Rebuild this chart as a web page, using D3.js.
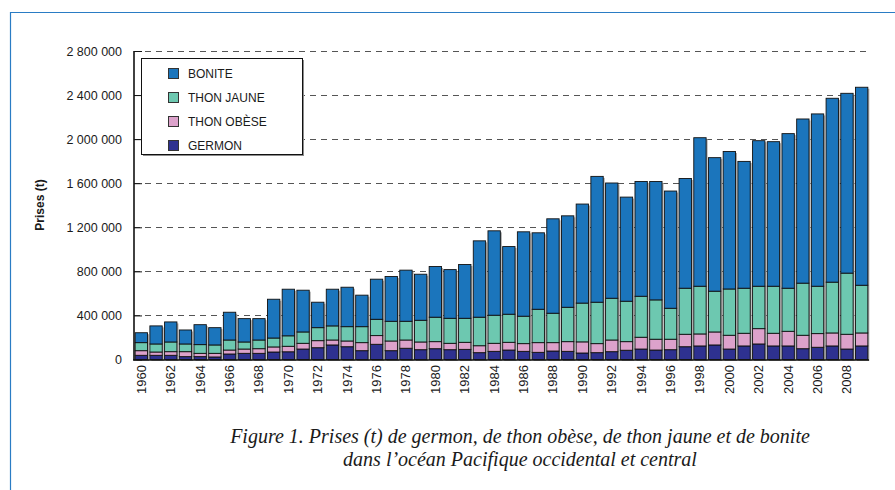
<!DOCTYPE html>
<html>
<head>
<meta charset="utf-8">
<script src="https://cdn.jsdelivr.net/npm/d3@7"></script>
<style>
  body { margin:0; background:#fff; }
  .chart text { font-family: "Liberation Sans", Arial, sans-serif; fill:#1a1a1a; }
</style>
</head>
<body>
<div class="chart"></div>
<script>
// years on the x axis
var years = d3.range(1960, 2010);
// catches in tonnes, one value per year
var germon = [38,38,38,26,26,23,50,56,56,68, 70,95,107,132,116,80,138,80,102,89,
  98,89,92,62,74,86,74,65,77,74, 59,62,71,84,95,86,89,116,123,132,
  95,123,141,123,123,98,111,123,95,123].map(v => v * 1000);
var thonObese = [42,30,33,45,30,33,36,39,42,46, 50,52,64,45,52,73,79,88,75,70,
  64,58,64,63,73,70,70,88,76,88, 101,82,106,78,107,98,95,113,109,118,
  125,115,139,115,133,122,124,118,134,118].map(v => v * 1000);
var thonJaune = [73,73,88,70,79,76,91,64,79,81, 95,103,118,128,130,145,148,179,170,197,
  222,227,218,259,255,255,249,303,267,312, 352,376,379,367,372,357,281,418,433,370,
  420,409,385,427,391,473,430,461,555,433].map(v => v * 1000);
var bonite = [90,164,182,127,181,157,252,212,194,352, 423,379,231,333,358,286,364,406,464,418,
  460,442,488,693,766,614,766,694,857,830, 899,1142,1046,945,1042,1075,1064,996,1348,1212,
  1248,1151,1321,1312,1403,1490,1564,1669,1632,1797].map(v => v * 1000);

var yTicks = [0, 400000, 800000, 1200000, 1600000, 2000000, 2400000, 2800000];
var xTickYears = years.filter(y => y % 2 === 0);

// stacking order from the bottom up
var keys = ["germon", "obese", "jaune", "bonite"];
var colors = { germon:"#2e3190", obese:"#dca2cb", jaune:"#6dc8b0", bonite:"#1b75bc" };
// legend order (top to bottom)
var legendItems = [
  { key:"bonite", label:"BONITE" },
  { key:"jaune", label:"THON JAUNE" },
  { key:"obese", label:"THON OBÈSE" },
  { key:"germon", label:"GERMON" }
];

var table = years.map(function (y, i) {
  return { year:y, germon:germon[i], obese:thonObese[i], jaune:thonJaune[i], bonite:bonite[i] };
});
var series = d3.stack().keys(keys)(table);

var W = 895, H = 490;
var svg = d3.select(".chart").append("svg")
  .attr("width", W).attr("height", H);

// blue frame (top and left only)
svg.append("path")
  .attr("d", "M10.5," + H + "V12.5H" + W)
  .attr("fill", "none")
  .attr("stroke", "#2a7cc4")
  .attr("stroke-width", 1.2);

var x = d3.scaleBand()
  .domain(years)
  .range([134, 869])
  .paddingInner(0.16)
  .paddingOuter(0.08);

var y = d3.scaleLinear()
  .domain([0, 2800000])
  .range([359.5, 51]);

var fmt = d3.formatLocale({ decimal:",", thousands:" ", grouping:[3], currency:["", " €"] }).format(",d");

// dashed gridlines behind the bars
svg.append("g")
  .selectAll("line")
  .data(yTicks.filter(d => d > 0))
  .enter().append("line")
  .attr("x1", 134).attr("x2", 868)
  .attr("y1", d => Math.round(y(d)) + 0.5)
  .attr("y2", d => Math.round(y(d)) + 0.5)
  .attr("stroke", "#555")
  .attr("stroke-width", 1)
  .attr("stroke-dasharray", "6,5");

// bar shadows
svg.append("g")
  .selectAll("rect")
  .data(table)
  .enter().append("rect")
  .attr("x", d => x(d.year) + 1.5)
  .attr("y", d => y(d.germon + d.obese + d.jaune + d.bonite) + 1.5)
  .attr("width", x.bandwidth())
  .attr("height", d => y(0) - y(d.germon + d.obese + d.jaune + d.bonite))
  .attr("fill", "#a9a9a9");

// stacked bars
svg.append("g")
  .selectAll("g")
  .data(series)
  .enter().append("g")
  .attr("fill", d => colors[d.key])
  .selectAll("rect")
  .data(d => d)
  .enter().append("rect")
  .attr("x", d => x(d.data.year))
  .attr("y", d => y(d[1]))
  .attr("width", x.bandwidth())
  .attr("height", d => y(d[0]) - y(d[1]))
  .attr("stroke", "#111")
  .attr("stroke-width", 0.9);

// y axis, ticks pointing inside
var yAxis = d3.axisLeft(y).tickValues(yTicks).tickSize(-8).tickPadding(12).tickFormat(fmt);
var gy = svg.append("g")
  .attr("transform", "translate(134,0)")
  .call(yAxis);
gy.select(".domain").attr("stroke", "#111").attr("stroke-width", 1.6).attr("d", "M0,51V360");
gy.selectAll(".tick line").attr("stroke", "#111");
gy.selectAll(".tick text").style("font-size", "12.5px").attr("fill", "#1a1a1a");

// x axis, every other year rotated
svg.append("line")
  .attr("x1", 133).attr("x2", 869)
  .attr("y1", 360).attr("y2", 360)
  .attr("stroke", "#111").attr("stroke-width", 1.6);

svg.append("g")
  .selectAll("text")
  .data(xTickYears)
  .enter().append("text")
  .attr("transform", d => "translate(" + (x(d) + x.bandwidth() / 2 + 4.5) + ",365) rotate(-90)")
  .style("text-anchor", "end")
  .style("font-size", "13px")
  .text(d => d);

// y label
svg.append("text")
  .attr("transform", "translate(44,205) rotate(-90)")
  .style("text-anchor", "middle")
  .style("font-size", "12px")
  .style("font-weight", "bold")
  .text("Prises (t)");

// legend box
var lg = svg.append("g");
lg.append("rect")
  .attr("x", 143).attr("y", 60).attr("width", 161).attr("height", 96)
  .attr("fill", "#8c8c8c");
lg.append("rect")
  .attr("x", 141.5).attr("y", 58.5).attr("width", 161).attr("height", 96)
  .attr("fill", "#fff").attr("stroke", "#111").attr("stroke-width", 1);

var row = lg.selectAll(".row")
  .data(legendItems)
  .enter().append("g")
  .attr("class", "row")
  .attr("transform", (d, i) => "translate(168," + (73 + i * 24) + ")");
row.append("rect")
  .attr("x", 0.5).attr("y", -4.5).attr("width", 10).attr("height", 10)
  .attr("fill", d => colors[d.key])
  .attr("stroke", "#333").attr("stroke-width", 1);
row.append("text")
  .attr("x", 20).attr("y", 5)
  .style("font-size", "12px")
  .text(d => d.label);

// caption
var cap = svg.append("text")
  .attr("text-anchor", "middle")
  .style("font-family", "'Liberation Serif', 'DejaVu Serif', serif")
  .style("font-style", "italic")
  .style("font-size", "20px")
  .attr("fill", "#3a3a3a");
cap.append("tspan").attr("x", 520).attr("y", 443)
  .text("Figure 1. Prises (t) de germon, de thon obèse, de thon jaune et de bonite");
cap.append("tspan").attr("x", 520).attr("y", 466)
  .text("dans l’océan Pacifique occidental et central");
</script>
</body>
</html>
